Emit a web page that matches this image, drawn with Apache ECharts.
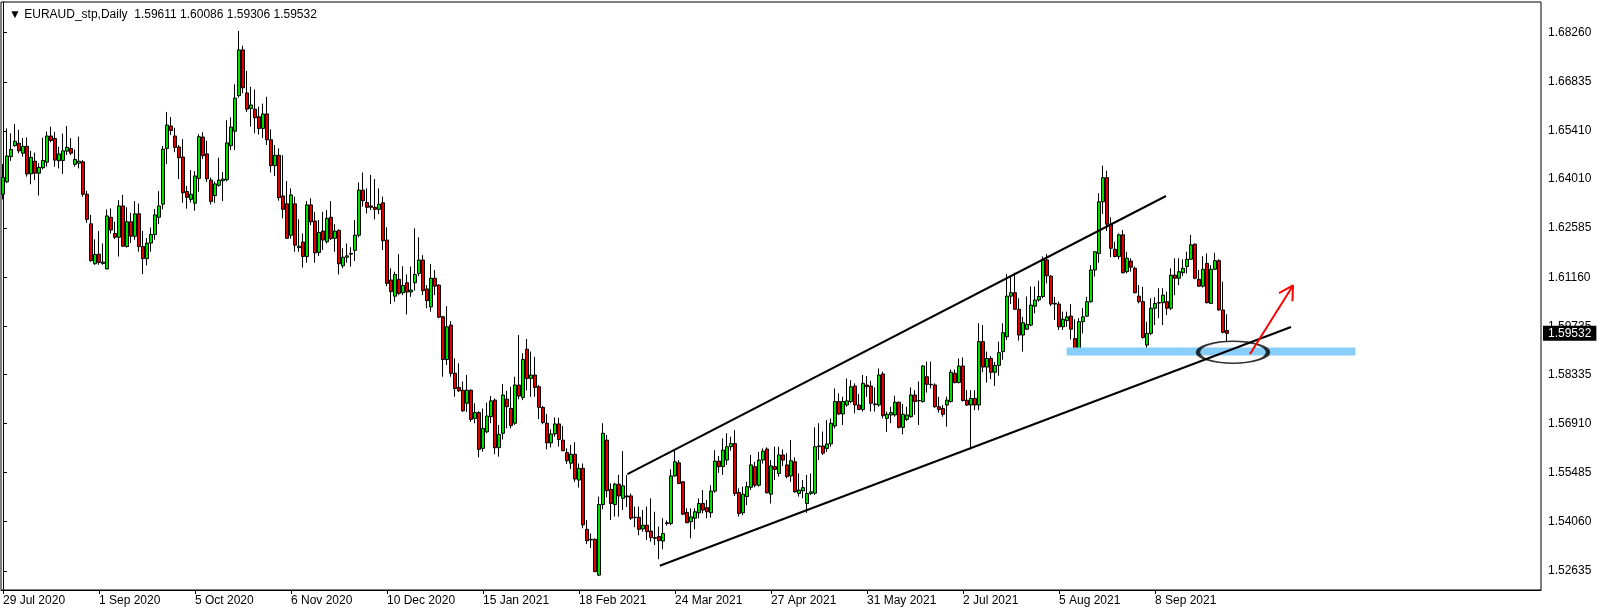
<!DOCTYPE html>
<html><head><meta charset="utf-8">
<script src="https://cdn.jsdelivr.net/npm/echarts@6/dist/echarts.min.js"></script>
<style>html,body{margin:0;padding:0;background:#fff}#c{width:1604px;height:613px}</style>
</head><body><div id="c"></div>
<script>
const symbolName = 'EURAUD_stp,Daily';
const headerOHLC = [1.59611, 1.60086, 1.59306, 1.59532];
const dateLabels = ['29 Jul 2020','1 Sep 2020','5 Oct 2020','6 Nov 2020','10 Dec 2020','15 Jan 2021','18 Feb 2021','24 Mar 2021','27 Apr 2021','31 May 2021','2 Jul 2021','5 Aug 2021','8 Sep 2021'];
const labelStep = 24;
const totalSlots = 385;
const priceTicks = [1.68260,1.66835,1.65410,1.64010,1.62585,1.61160,1.59735,1.58335,1.56910,1.55485,1.54060,1.52635];

const opens = [
1.6357,1.6393,1.6466,1.6498,1.6505,1.6476,1.6496,1.6416,1.6453,1.6418,
1.6434,1.6450,1.6526,1.6519,1.6454,1.6455,1.6482,1.6490,1.6444,1.6447,
1.6451,1.6357,1.6271,1.6155,1.6183,1.6156,1.6140,1.6290,1.6243,1.6232,
1.6323,1.6205,1.6277,1.6235,1.6300,1.6205,1.6170,1.6215,1.6240,1.6290,
1.6328,1.6490,1.6555,1.6526,1.6494,1.6465,1.6365,1.6342,1.6331,1.6403,
1.6523,1.6474,1.6398,1.6353,1.6383,1.6396,1.6399,1.6498,1.6540,1.6643,
1.6776,1.6651,1.6606,1.6604,1.6582,1.6548,1.6590,1.6515,1.6440,1.6470,
1.6352,1.6329,1.6238,1.6329,1.6202,1.6218,1.6176,1.6326,1.6279,1.6188,
1.6250,1.6219,1.6290,1.6229,1.6252,1.6149,1.6174,1.6183,1.6194,1.6238,
1.6369,1.6333,1.6323,1.6319,1.6313,1.6332,1.6224,1.6108,1.6061,1.6110,
1.6071,1.6100,1.6073,1.6100,1.6127,1.6166,1.6082,1.6030,1.6113,1.6093,
1.6001,1.5877,1.5977,1.5837,1.5796,1.5788,1.5750,1.5788,1.5706,1.5723,
1.5619,1.5667,1.5711,1.5759,1.5621,1.5663,1.5762,1.5735,1.5692,1.5803,
1.5767,1.5907,1.5822,1.5832,1.5798,1.5738,1.5692,1.5635,1.5661,1.5690,
1.5643,1.5607,1.5576,1.5602,1.5527,1.5561,1.5384,1.5355,1.5355,1.5251,
1.5456,1.5643,1.5500,1.5456,1.5515,1.5474,1.5481,1.5481,1.5418,1.5419,
1.5385,1.5396,1.5379,1.5360,1.5363,1.5350,1.5403,1.5401,1.5539,1.5577,
1.5522,1.5433,1.5406,1.5416,1.5432,1.5459,1.5447,1.5432,1.5495,1.5582,
1.5566,1.5585,1.5624,1.5633,1.5491,1.5432,1.5479,1.5506,1.5566,1.5512,
1.5585,1.5617,1.5486,1.5566,1.5546,1.5600,1.5571,1.5539,1.5580,1.5488,
1.5496,1.5459,1.5488,1.5489,1.5626,1.5626,1.5619,1.5632,1.5684,1.5755,
1.5719,1.5745,1.5755,1.5800,1.5745,1.5732,1.5803,1.5800,1.5748,1.5745,
1.5835,1.5706,1.5716,1.5716,1.5753,1.5680,1.5703,1.5711,1.5774,1.5758,
1.5755,1.5827,1.5805,1.5803,1.5740,1.5735,1.5745,1.5755,1.5837,1.5810,
1.5858,1.5759,1.5745,1.5764,1.5745,1.5929,1.5855,1.5880,1.5840,1.5860,
1.5900,1.5943,1.6061,1.6071,1.6023,1.5948,1.5965,1.5977,1.6032,1.6050,
1.6060,1.6166,1.6119,1.6040,1.6038,1.5972,1.5990,1.6003,1.5938,1.5909,
1.5987,1.6003,1.6045,1.6137,1.6185,1.6335,1.6405,1.6270,1.6197,1.6176,
1.6239,1.6132,1.6163,1.6142,1.6061,1.6045,1.5919,1.5953,1.6026,1.6042,
1.6042,1.6045,1.6026,1.6122,1.6113,1.6129,1.6147,1.6168,1.6212,1.6110,
1.6090,1.6156,1.6040,1.6139,1.6164,1.6021,1.59611];

const highs = [
1.6445,1.6548,1.6534,1.6561,1.6544,1.6520,1.6522,1.6483,1.6478,1.6447,
1.6521,1.6539,1.6553,1.6538,1.6495,1.6533,1.6555,1.6520,1.6487,1.6524,
1.6456,1.6367,1.6297,1.6226,1.6250,1.6214,1.6313,1.6316,1.6277,1.6340,
1.6355,1.6319,1.6303,1.6337,1.6330,1.6250,1.6230,1.6260,1.6314,1.6366,
1.6497,1.6596,1.6581,1.6550,1.6500,1.6517,1.6381,1.6427,1.6424,1.6531,
1.6537,1.6512,1.6405,1.6394,1.6463,1.6421,1.6572,1.6580,1.6676,1.6831,
1.6788,1.6715,1.6669,1.6661,1.6611,1.6620,1.6640,1.6545,1.6500,1.6490,
1.6470,1.6395,1.6374,1.6350,1.6284,1.6243,1.6337,1.6345,1.6306,1.6282,
1.6306,1.6311,1.6337,1.6270,1.6255,1.6200,1.6214,1.6203,1.6282,1.6391,
1.6420,1.6374,1.6413,1.6401,1.6374,1.6350,1.6261,1.6142,1.6132,1.6183,
1.6148,1.6124,1.6147,1.6258,1.6232,1.6180,1.6093,1.6154,1.6137,1.6096,
1.6004,1.6032,1.5989,1.5880,1.5866,1.5813,1.5832,1.5790,1.5750,1.5727,
1.5735,1.5752,1.5771,1.5764,1.5687,1.5806,1.5786,1.5798,1.5827,1.5948,
1.5895,1.5937,1.5900,1.5885,1.5803,1.5742,1.5719,1.5674,1.5709,1.5708,
1.5684,1.5619,1.5629,1.5637,1.5575,1.5575,1.5411,1.5372,1.5358,1.5479,
1.5692,1.5658,1.5517,1.5519,1.5542,1.5611,1.5542,1.5488,1.5450,1.5450,
1.5440,1.5450,1.5474,1.5435,1.5392,1.5416,1.5410,1.5558,1.5614,1.5585,
1.5524,1.5445,1.5445,1.5445,1.5474,1.5498,1.5469,1.5512,1.5614,1.5597,
1.5648,1.5663,1.5653,1.5672,1.5503,1.5508,1.5522,1.5600,1.5580,1.5609,
1.5619,1.5622,1.5585,1.5624,1.5624,1.5616,1.5605,1.5643,1.5593,1.5546,
1.5527,1.5542,1.5546,1.5680,1.5692,1.5668,1.5701,1.5706,1.5793,1.5779,
1.5769,1.5822,1.5817,1.5808,1.5777,1.5832,1.5829,1.5815,1.5796,1.5851,
1.5842,1.5726,1.5740,1.5772,1.5755,1.5748,1.5740,1.5796,1.5788,1.5813,
1.5861,1.5871,1.5871,1.5808,1.5769,1.5745,1.5769,1.5848,1.5848,1.5880,
1.5883,1.5788,1.5788,1.5788,1.5982,1.5977,1.5900,1.5887,1.5870,1.5929,
1.5982,1.6125,1.6122,1.6129,1.6055,1.6001,1.6060,1.6089,1.6089,1.6106,
1.6176,1.6183,1.6122,1.6059,1.6045,1.6016,1.6016,1.6038,1.5994,1.5997,
1.6026,1.6059,1.6151,1.6190,1.6360,1.6440,1.6425,1.6290,1.6219,1.6243,
1.6253,1.6190,1.6171,1.6147,1.6093,1.6088,1.5987,1.6055,1.6058,1.6084,
1.6084,1.6074,1.6142,1.6171,1.6171,1.6168,1.6190,1.6239,1.6214,1.6137,
1.6177,1.6185,1.6151,1.6187,1.6168,1.6103,1.60086];

const lows = [
1.6342,1.6389,1.6454,1.6495,1.6476,1.6466,1.6408,1.6386,1.6398,1.6353,
1.6429,1.6437,1.6508,1.6437,1.6432,1.6416,1.6471,1.6471,1.6437,1.6432,
1.6350,1.6274,1.6161,1.6152,1.6152,1.6152,1.6139,1.6243,1.6227,1.6176,
1.6205,1.6202,1.6215,1.6225,1.6190,1.6125,1.6150,1.6190,1.6225,1.6270,
1.6313,1.6444,1.6529,1.6479,1.6401,1.6332,1.6315,1.6333,1.6309,1.6364,
1.6459,1.6393,1.6327,1.6332,1.6379,1.6337,1.6394,1.6485,1.6485,1.6637,
1.6650,1.6596,1.6553,1.6534,1.6530,1.6520,1.6500,1.6420,1.6410,1.6338,
1.6287,1.6229,1.6228,1.6190,1.6190,1.6144,1.6158,1.6267,1.6158,1.6178,
1.6195,1.6214,1.6224,1.6190,1.6124,1.6142,1.6158,1.6147,1.6163,1.6232,
1.6321,1.6301,1.6311,1.6284,1.6299,1.6195,1.6090,1.6038,1.6045,1.6064,
1.6064,1.6008,1.6059,1.6077,1.6119,1.6064,1.6026,1.6016,1.6064,1.5997,
1.5827,1.5861,1.5827,1.5769,1.5783,1.5725,1.5725,1.5696,1.5692,1.5593,
1.5609,1.5663,1.5692,1.5602,1.5595,1.5645,1.5677,1.5677,1.5687,1.5762,
1.5759,1.5787,1.5769,1.5769,1.5704,1.5689,1.5616,1.5622,1.5653,1.5624,
1.5612,1.5574,1.5559,1.5522,1.5505,1.5387,1.5341,1.5330,1.5261,1.5248,
1.5442,1.5477,1.5411,1.5421,1.5421,1.5440,1.5449,1.5411,1.5390,1.5367,
1.5377,1.5353,1.5348,1.5338,1.5297,1.5326,1.5395,1.5396,1.5537,1.5515,
1.5425,1.5403,1.5358,1.5384,1.5416,1.5430,1.5416,1.5418,1.5490,1.5548,
1.5542,1.5571,1.5612,1.5481,1.5421,1.5425,1.5454,1.5498,1.5506,1.5508,
1.5575,1.5488,1.5459,1.5527,1.5537,1.5568,1.5532,1.5522,1.5490,1.5479,
1.5474,1.5432,1.5484,1.5484,1.5585,1.5600,1.5609,1.5624,1.5677,1.5716,
1.5687,1.5740,1.5750,1.5721,1.5730,1.5726,1.5769,1.5726,1.5726,1.5740,
1.5706,1.5667,1.5692,1.5711,1.5677,1.5660,1.5699,1.5708,1.5716,1.5687,
1.5752,1.5781,1.5793,1.5737,1.5723,1.5711,1.5682,1.5752,1.5808,1.5808,
1.5755,1.5742,1.5616,1.5730,1.5730,1.5840,1.5810,1.5820,1.5800,1.5830,
1.5876,1.5934,1.6038,1.6021,1.5932,1.5900,1.5963,1.5974,1.6011,1.6045,
1.6055,1.6098,1.6032,1.5992,1.5963,1.5963,1.5972,1.5935,1.5900,1.5903,
1.5953,1.6001,1.6042,1.6118,1.6158,1.6300,1.6250,1.6174,1.6174,1.6168,
1.6127,1.6127,1.6132,1.6069,1.6040,1.5938,1.5909,1.5948,1.5977,1.5997,
1.5977,1.6006,1.6021,1.6064,1.6093,1.6119,1.6127,1.6166,1.6110,1.6088,
1.6086,1.6040,1.6038,1.6137,1.6019,1.5953,1.59306];

const closes = [
1.6406,1.6468,1.6487,1.6511,1.6483,1.6496,1.6416,1.6464,1.6418,1.6435,
1.6455,1.6526,1.6513,1.6456,1.6474,1.6483,1.6493,1.6476,1.6458,1.6453,
1.6357,1.6284,1.6164,1.6182,1.6159,1.6160,1.6294,1.6253,1.6232,1.6323,
1.6206,1.6277,1.6235,1.6300,1.6205,1.6170,1.6215,1.6240,1.6297,1.6323,
1.6488,1.6558,1.6542,1.6493,1.6463,1.6361,1.6348,1.6357,1.6410,1.6524,
1.6469,1.6402,1.6336,1.6387,1.6398,1.6401,1.6506,1.6552,1.6636,1.6776,
1.6666,1.6604,1.6616,1.6579,1.6548,1.6590,1.6515,1.6440,1.6470,1.6347,
1.6313,1.6229,1.6355,1.6209,1.6206,1.6176,1.6326,1.6277,1.6187,1.6246,
1.6224,1.6287,1.6228,1.6250,1.6155,1.6174,1.6178,1.6185,1.6238,1.6369,
1.6338,1.6319,1.6319,1.6313,1.6328,1.6222,1.6098,1.6074,1.6124,1.6069,
1.6092,1.6073,1.6079,1.6124,1.6166,1.6077,1.6048,1.6113,1.6090,1.6000,
1.5877,1.5972,1.5837,1.5793,1.5786,1.5728,1.5788,1.5703,1.5723,1.5616,
1.5677,1.5713,1.5757,1.5621,1.5660,1.5774,1.5740,1.5685,1.5803,1.5771,
1.5877,1.5822,1.5832,1.5796,1.5738,1.5694,1.5635,1.5661,1.5690,1.5645,
1.5612,1.5583,1.5602,1.5530,1.5561,1.5397,1.5351,1.5353,1.5261,1.5456,
1.5663,1.5496,1.5459,1.5515,1.5481,1.5510,1.5478,1.5416,1.5419,1.5384,
1.5396,1.5377,1.5360,1.5358,1.5351,1.5372,1.5401,1.5539,1.5580,1.5517,
1.5428,1.5403,1.5420,1.5435,1.5459,1.5440,1.5435,1.5495,1.5582,1.5566,
1.5614,1.5624,1.5633,1.5488,1.5430,1.5486,1.5508,1.5571,1.5512,1.5585,
1.5611,1.5490,1.5568,1.5558,1.5600,1.5585,1.5537,1.5583,1.5493,1.5498,
1.5505,1.5488,1.5493,1.5624,1.5624,1.5605,1.5632,1.5692,1.5755,1.5719,
1.5755,1.5757,1.5798,1.5745,1.5732,1.5808,1.5798,1.5750,1.5746,1.5832,
1.5714,1.5718,1.5723,1.5753,1.5680,1.5718,1.5716,1.5774,1.5755,1.5757,
1.5858,1.5805,1.5804,1.5740,1.5732,1.5718,1.5759,1.5840,1.5810,1.5858,
1.5758,1.5745,1.5764,1.5745,1.5929,1.5855,1.5880,1.5840,1.5860,1.5897,
1.5955,1.6061,1.6071,1.6023,1.5948,1.5984,1.5979,1.6035,1.6050,1.6060,
1.6166,1.6120,1.6038,1.6038,1.5972,1.5994,1.6001,1.5965,1.5909,1.5987,
1.6001,1.6045,1.6137,1.6190,1.6335,1.6405,1.6270,1.6200,1.6176,1.6239,
1.6129,1.6171,1.6145,1.6071,1.6045,1.5941,1.5953,1.6026,1.6040,1.6041,
1.6064,1.6026,1.6122,1.6113,1.6132,1.6142,1.6168,1.6210,1.6113,1.6090,
1.6139,1.6042,1.6139,1.6164,1.6021,1.5956,1.59532];

// drawn objects: [bar position, price]
const upperChannel = [[156.1, 1.55444], [290.75, 1.63518]];
const lowerChannel = [[164.2, 1.52782], [322.0, 1.59714]];
const supportZone = [[265.9, 1.5900], [338.1, 1.5900]];
const focusEllipse = [[307.5, 1.5898]];
const arrowShaft = [[311.75, 1.5893], [322.5, 1.6092]];
const arrowHead = [[319.0, 1.6070], [322.5, 1.6092], [322.35, 1.6046]];

const categories = Array.from({length: totalSlots}, (_, i) => String(i));
const candles = opens.map((o, i) => [o, closes[i], lows[i], highs[i]]);
const FONT = 'Liberation Sans';
const Y_MIN = 1.52078, Y_MAX = 1.69151;

const chart = echarts.init(document.getElementById('c'), null, {renderer: 'canvas'});
chart.setOption({
  animation: false,
  backgroundColor: '#ffffff',
  title: {
    text: '\u25BC ' + symbolName + '  ' + headerOHLC.map(v => v.toFixed(5)).join(' '),
    left: 4, top: 4,
    textStyle: {fontFamily: FONT, fontSize: 12, fontWeight: 'normal', color: '#000'}
  },
  grid: {left: 1, right: 63, top: 2, bottom: 23, show: true, borderColor: '#000', borderWidth: 1, backgroundColor: '#fff'},
  xAxis: [{
    type: 'category', data: categories, boundaryGap: true,
    axisLine: {show: true, lineStyle: {color: '#000'}},
    axisTick: {show: true, alignWithLabel: true, length: 4, lineStyle: {color: '#000'},
      interval: (i) => i % labelStep === 0 && i / labelStep < dateLabels.length},
    axisLabel: {
      interval: (i) => i % labelStep === 0 && i / labelStep < dateLabels.length,
      formatter: (v, i) => dateLabels[Math.round(i / labelStep)] || '',
      align: 'left', margin: 5, color: '#000', fontFamily: FONT, fontSize: 12
    },
    splitLine: {show: false}
  }, {
    type: 'value', min: -0.5, max: totalSlots - 0.5, show: false
  }],
  yAxis: [{
    type: 'value', position: 'right', min: Y_MIN, max: Y_MAX,
    axisLine: {show: true, lineStyle: {color: '#000'}},
    axisTick: {show: true, length: 4, customValues: priceTicks, lineStyle: {color: '#000'}},
    axisLabel: {customValues: priceTicks, formatter: v => v.toFixed(5), margin: 7, color: '#000', fontFamily: FONT, fontSize: 12},
    splitLine: {show: false}
  }, {
    type: 'value', position: 'right', min: Y_MIN, max: Y_MAX, z: 5,
    axisLine: {show: false}, axisTick: {show: false}, splitLine: {show: false},
    axisLabel: {customValues: [headerOHLC[3]], formatter: v => v.toFixed(5), margin: 2,
      color: '#fff', backgroundColor: '#000', padding: [1, 5, 1, 5], lineHeight: 13,
      fontFamily: FONT, fontSize: 12, showMinLabel: true, showMaxLabel: true}
  }],
  series: [{
    type: 'candlestick', data: candles, xAxisIndex: 0, yAxisIndex: 0, barWidth: 3,
    itemStyle: {color: '#00dd00', color0: '#e00000', borderColor: '#000', borderColor0: '#000', borderWidth: 1},
    z: 2
  }, {
    type: 'line', xAxisIndex: 1, data: supportZone, symbol: 'none', silent: true,
    lineStyle: {color: '#87cefa', width: 8, cap: 'butt'}, z: 3
  }, {
    type: 'line', xAxisIndex: 1, data: upperChannel, symbol: 'none', silent: true,
    lineStyle: {color: '#000', width: 2}, z: 4
  }, {
    type: 'line', xAxisIndex: 1, data: lowerChannel, symbol: 'none', silent: true,
    lineStyle: {color: '#000', width: 2}, z: 4
  }, {
    type: 'scatter', xAxisIndex: 1, data: focusEllipse, symbol: 'circle', symbolSize: [70, 22], silent: true,
    itemStyle: {color: 'rgba(0,0,0,0)', borderColor: '#000', borderWidth: 2.5}, z: 5
  }, {
    type: 'line', xAxisIndex: 1, data: arrowShaft, symbol: 'none', silent: true,
    lineStyle: {color: '#ff0000', width: 2}, z: 6
  }, {
    type: 'line', xAxisIndex: 1, data: arrowHead, symbol: 'none', silent: true,
    lineStyle: {color: '#ff0000', width: 2}, z: 6
  }]
});
</script>
</body></html>
